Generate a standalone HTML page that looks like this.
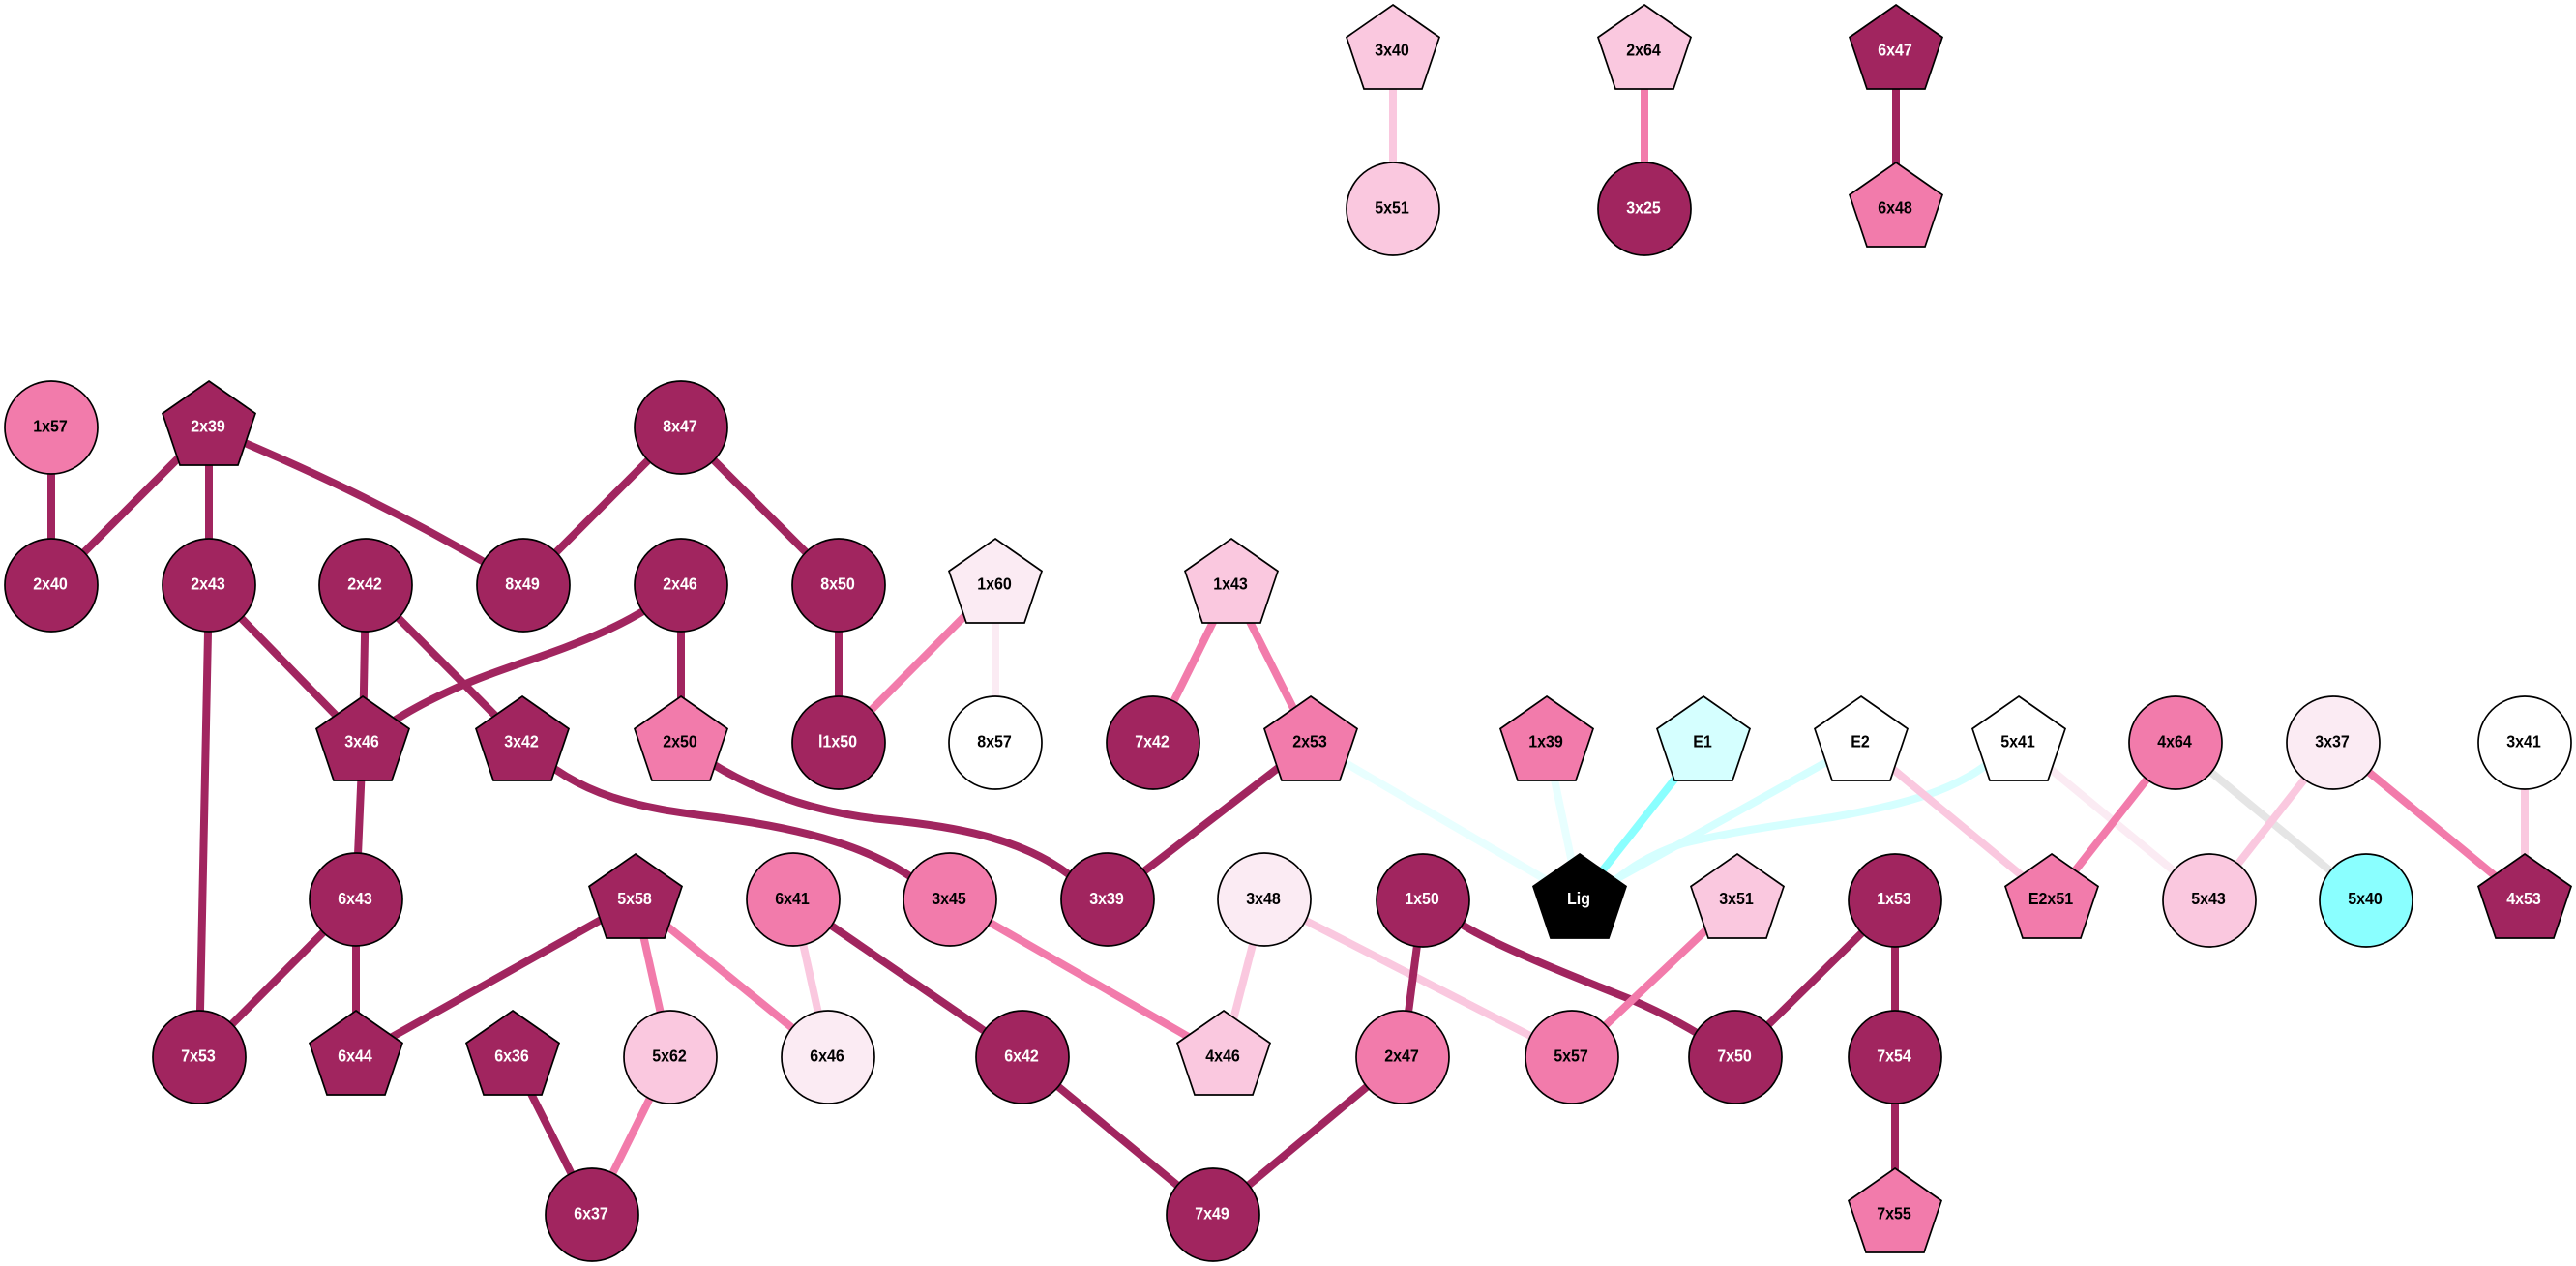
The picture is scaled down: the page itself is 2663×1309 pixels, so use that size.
<!DOCTYPE html>
<html>
<head>
<meta charset="utf-8">
<style>
html,body{margin:0;padding:0;background:#fff}
svg{display:block}
text{font-family:"Liberation Sans",sans-serif;font-weight:bold;font-size:18px;text-anchor:middle;fill:#000;transform-box:fill-box;transform-origin:center;transform:scale(.89,1)}
text.w{fill:#fff}
.e path,.e line{fill:none;stroke-width:8}
.d{stroke:#A1255F}.p{stroke:#F27BAB}.l{stroke:#FAC8DF}.v{stroke:#FBEBF3}
.c{stroke:#8AFFFF}.m{stroke:#D5FFFF}.n{stroke:#E8FFFF}.g{stroke:#E5E5E5}
.n1 ellipse,.n1 polygon{stroke:#000;stroke-width:1.7}
.D{fill:#A1255F}.P{fill:#F27BAB}.L{fill:#FAC8DF}.V{fill:#FBEBF3}.W{fill:#fff}.C{fill:#8AFFFF}.M{fill:#D5FFFF}.K{fill:#000}
</style>
</head>
<body>
<svg width="2663" height="1309" viewBox="0 0 2663 1309" xmlns="http://www.w3.org/2000/svg">
<rect width="2663" height="1309" fill="#fff"/>
<g class="e">
<line class="l" x1="1440" y1="53" x2="1440" y2="216"/>
<line class="p" x1="1700" y1="53" x2="1700" y2="216"/>
<line class="d" x1="1960" y1="53" x2="1960" y2="216"/>
<line class="d" x1="53" y1="442" x2="53" y2="605"/>
<line class="d" x1="216" y1="442" x2="53" y2="605"/>
<line class="d" x1="216" y1="442" x2="216" y2="605"/>
<path class="d" d="M216 442 C300 478,400 520,541 605"/>
<line class="d" x1="704" y1="442" x2="541" y2="605"/>
<line class="d" x1="704" y1="442" x2="867" y2="605"/>
<line class="d" x1="216" y1="605" x2="375" y2="768"/>
<line class="d" x1="216" y1="605" x2="206" y2="1093"/>
<line class="d" x1="378" y1="605" x2="375" y2="768"/>
<line class="d" x1="378" y1="605" x2="540" y2="768"/>
<path class="d" d="M704 605 C630 665,540 680,470 712 C430 730,405 745,375 768"/>
<line class="d" x1="704" y1="605" x2="704" y2="768"/>
<line class="d" x1="867" y1="605" x2="867" y2="768"/>
<line class="p" x1="1029" y1="605" x2="867" y2="768"/>
<line class="v" x1="1029" y1="605" x2="1029" y2="768"/>
<line class="p" x1="1273" y1="605" x2="1192" y2="768"/>
<line class="p" x1="1273" y1="605" x2="1355" y2="768"/>
<line class="d" x1="1355" y1="768" x2="1145" y2="930"/>
<line class="n" x1="1355" y1="768" x2="1633" y2="930"/>
<path class="d" d="M704 768 C760 810,830 840,920 848 C1000 856,1060 870,1106 905 Q1130 925,1145 950"/>
<path class="d" d="M540 768 C600 825,660 835,740 845 C840 858,920 880,970 930 L982 950"/>
<line class="d" x1="375" y1="768" x2="368" y2="930"/>
<line class="d" x1="368" y1="930" x2="206" y2="1093"/>
<line class="d" x1="368" y1="930" x2="368" y2="1093"/>
<line class="d" x1="657" y1="931" x2="368" y2="1093"/>
<line class="p" x1="657" y1="931" x2="693" y2="1093"/>
<line class="p" x1="657" y1="931" x2="856" y2="1093"/>
<line class="l" x1="820" y1="930" x2="856" y2="1093"/>
<line class="d" x1="820" y1="930" x2="1057" y2="1093"/>
<line class="p" x1="982" y1="930" x2="1265" y2="1093"/>
<line class="l" x1="1307" y1="930" x2="1265" y2="1093"/>
<line class="l" x1="1307" y1="930" x2="1625" y2="1093"/>
<line class="d" x1="530" y1="1093" x2="612" y2="1256"/>
<line class="p" x1="693" y1="1093" x2="612" y2="1256"/>
<line class="d" x1="1057" y1="1093" x2="1254" y2="1256"/>
<line class="d" x1="1450" y1="1093" x2="1254" y2="1256"/>
<line class="d" x1="1471" y1="931" x2="1450" y2="1093"/>
<path class="d" d="M1471 931 L1513 957 C1550 980,1640 1015,1685 1033 C1720 1048,1750 1064,1794 1093"/>
<line class="p" x1="1796" y1="931" x2="1625" y2="1093"/>
<line class="d" x1="1959" y1="931" x2="1794" y2="1093"/>
<line class="d" x1="1959" y1="931" x2="1959" y2="1093"/>
<line class="d" x1="1959" y1="1093" x2="1959" y2="1256"/>
<line class="n" x1="1599" y1="768" x2="1633" y2="930"/>
<line class="c" x1="1761" y1="768" x2="1633" y2="930"/>
<line class="m" x1="1924" y1="768" x2="1633" y2="930"/>
<path class="m" d="M2087 768 L2052 792 C2020 815,1980 830,1894 845 C1840 853,1790 860,1740 872 C1700 885,1670 905,1633 945"/>
<line class="l" x1="1924" y1="768" x2="2121" y2="931"/>
<line class="v" x1="2087" y1="768" x2="2284" y2="931"/>
<line class="p" x1="2249" y1="768" x2="2121" y2="931"/>
<line class="g" x1="2249" y1="768" x2="2446" y2="931"/>
<line class="l" x1="2412" y1="768" x2="2284" y2="931"/>
<line class="p" x1="2412" y1="768" x2="2610" y2="931"/>
<line class="l" x1="2610" y1="768" x2="2610" y2="931"/>
</g>
<g class="n1">
<polygon class="L" transform="translate(1440 53)" points="0,-48 48,-14.5 30,39 -30,39 -48,-14.5"/>
<polygon class="L" transform="translate(1700 53)" points="0,-48 48,-14.5 30,39 -30,39 -48,-14.5"/>
<polygon class="D" transform="translate(1960 53)" points="0,-48 48,-14.5 30,39 -30,39 -48,-14.5"/>
<ellipse class="L" cx="1440" cy="216" rx="48" ry="48"/>
<ellipse class="D" cx="1700" cy="216" rx="48" ry="48"/>
<polygon class="P" transform="translate(1960 216)" points="0,-48 48,-14.5 30,39 -30,39 -48,-14.5"/>
<ellipse class="P" cx="53" cy="442" rx="48" ry="48"/>
<polygon class="D" transform="translate(216 442)" points="0,-48 48,-14.5 30,39 -30,39 -48,-14.5"/>
<ellipse class="D" cx="704" cy="442" rx="48" ry="48"/>
<ellipse class="D" cx="53" cy="605" rx="48" ry="48"/>
<ellipse class="D" cx="216" cy="605" rx="48" ry="48"/>
<ellipse class="D" cx="378" cy="605" rx="48" ry="48"/>
<ellipse class="D" cx="541" cy="605" rx="48" ry="48"/>
<ellipse class="D" cx="704" cy="605" rx="48" ry="48"/>
<ellipse class="D" cx="867" cy="605" rx="48" ry="48"/>
<polygon class="V" transform="translate(1029 605)" points="0,-48 48,-14.5 30,39 -30,39 -48,-14.5"/>
<polygon class="L" transform="translate(1273 605)" points="0,-48 48,-14.5 30,39 -30,39 -48,-14.5"/>
<polygon class="D" transform="translate(375 768)" points="0,-48 48,-14.5 30,39 -30,39 -48,-14.5"/>
<polygon class="D" transform="translate(540 768)" points="0,-48 48,-14.5 30,39 -30,39 -48,-14.5"/>
<polygon class="P" transform="translate(704 768)" points="0,-48 48,-14.5 30,39 -30,39 -48,-14.5"/>
<ellipse class="D" cx="867" cy="768" rx="48" ry="48"/>
<ellipse class="W" cx="1029" cy="768" rx="48" ry="48"/>
<ellipse class="D" cx="1192" cy="768" rx="48" ry="48"/>
<polygon class="P" transform="translate(1355 768)" points="0,-48 48,-14.5 30,39 -30,39 -48,-14.5"/>
<polygon class="P" transform="translate(1599 768)" points="0,-48 48,-14.5 30,39 -30,39 -48,-14.5"/>
<polygon class="M" transform="translate(1761 768)" points="0,-48 48,-14.5 30,39 -30,39 -48,-14.5"/>
<polygon class="W" transform="translate(1924 768)" points="0,-48 48,-14.5 30,39 -30,39 -48,-14.5"/>
<polygon class="W" transform="translate(2087 768)" points="0,-48 48,-14.5 30,39 -30,39 -48,-14.5"/>
<ellipse class="P" cx="2249" cy="768" rx="48" ry="48"/>
<ellipse class="V" cx="2412" cy="768" rx="48" ry="48"/>
<ellipse class="W" cx="2610" cy="768" rx="48" ry="48"/>
<ellipse class="D" cx="368" cy="930" rx="48" ry="48"/>
<polygon class="D" transform="translate(657 931)" points="0,-48 48,-14.5 30,39 -30,39 -48,-14.5"/>
<ellipse class="P" cx="820" cy="930" rx="48" ry="48"/>
<ellipse class="P" cx="982" cy="930" rx="48" ry="48"/>
<ellipse class="D" cx="1145" cy="930" rx="48" ry="48"/>
<ellipse class="V" cx="1307" cy="930" rx="48" ry="48"/>
<ellipse class="D" cx="1471" cy="931" rx="48" ry="48"/>
<polygon class="K" transform="translate(1633 931)" points="0,-48 48,-14.5 30,39 -30,39 -48,-14.5"/>
<polygon class="L" transform="translate(1796 931)" points="0,-48 48,-14.5 30,39 -30,39 -48,-14.5"/>
<ellipse class="D" cx="1959" cy="931" rx="48" ry="48"/>
<polygon class="P" transform="translate(2121 931)" points="0,-48 48,-14.5 30,39 -30,39 -48,-14.5"/>
<ellipse class="L" cx="2284" cy="931" rx="48" ry="48"/>
<ellipse class="C" cx="2446" cy="931" rx="48" ry="48"/>
<polygon class="D" transform="translate(2610 931)" points="0,-48 48,-14.5 30,39 -30,39 -48,-14.5"/>
<ellipse class="D" cx="206" cy="1093" rx="48" ry="48"/>
<polygon class="D" transform="translate(368 1093)" points="0,-48 48,-14.5 30,39 -30,39 -48,-14.5"/>
<polygon class="D" transform="translate(530 1093)" points="0,-48 48,-14.5 30,39 -30,39 -48,-14.5"/>
<ellipse class="L" cx="693" cy="1093" rx="48" ry="48"/>
<ellipse class="V" cx="856" cy="1093" rx="48" ry="48"/>
<ellipse class="D" cx="1057" cy="1093" rx="48" ry="48"/>
<polygon class="L" transform="translate(1265 1093)" points="0,-48 48,-14.5 30,39 -30,39 -48,-14.5"/>
<ellipse class="P" cx="1450" cy="1093" rx="48" ry="48"/>
<ellipse class="P" cx="1625" cy="1093" rx="48" ry="48"/>
<ellipse class="D" cx="1794" cy="1093" rx="48" ry="48"/>
<ellipse class="D" cx="1959" cy="1093" rx="48" ry="48"/>
<ellipse class="D" cx="612" cy="1256" rx="48" ry="48"/>
<ellipse class="D" cx="1254" cy="1256" rx="48" ry="48"/>
<polygon class="P" transform="translate(1959 1256)" points="0,-48 48,-14.5 30,39 -30,39 -48,-14.5"/>
</g>
<g>
<text x="1439" y="57.7">3x40</text>
<text x="1699" y="57.7">2x64</text>
<text class="w" x="1959" y="57.7">6x47</text>
<text x="1439" y="220.7">5x51</text>
<text class="w" x="1699" y="220.7">3x25</text>
<text x="1959" y="220.7">6x48</text>
<text x="52" y="446.7">1x57</text>
<text class="w" x="215" y="446.7">2x39</text>
<text class="w" x="703" y="446.7">8x47</text>
<text class="w" x="52" y="609.7">2x40</text>
<text class="w" x="215" y="609.7">2x43</text>
<text class="w" x="377" y="609.7">2x42</text>
<text class="w" x="540" y="609.7">8x49</text>
<text class="w" x="703" y="609.7">2x46</text>
<text class="w" x="866" y="609.7">8x50</text>
<text x="1028" y="609.7">1x60</text>
<text x="1272" y="609.7">1x43</text>
<text class="w" x="374" y="772.7">3x46</text>
<text class="w" x="539" y="772.7">3x42</text>
<text x="703" y="772.7">2x50</text>
<text class="w" x="866" y="772.7">l1x50</text>
<text x="1028" y="772.7">8x57</text>
<text class="w" x="1191" y="772.7">7x42</text>
<text x="1354" y="772.7">2x53</text>
<text x="1598" y="772.7">1x39</text>
<text x="1760" y="772.7">E1</text>
<text x="1923" y="772.7">E2</text>
<text x="2086" y="772.7">5x41</text>
<text x="2248" y="772.7">4x64</text>
<text x="2411" y="772.7">3x37</text>
<text x="2609" y="772.7">3x41</text>
<text class="w" x="367" y="935">6x43</text>
<text class="w" x="656" y="935">5x58</text>
<text x="819" y="935">6x41</text>
<text x="981" y="935">3x45</text>
<text class="w" x="1144" y="935">3x39</text>
<text x="1306" y="935">3x48</text>
<text class="w" x="1470" y="935">1x50</text>
<text class="w" x="1632" y="935">Lig</text>
<text x="1795" y="935">3x51</text>
<text class="w" x="1958" y="935">1x53</text>
<text x="2120" y="935">E2x51</text>
<text x="2283" y="935">5x43</text>
<text x="2445" y="935">5x40</text>
<text class="w" x="2609" y="935">4x53</text>
<text class="w" x="205" y="1097.7">7x53</text>
<text class="w" x="367" y="1097.7">6x44</text>
<text class="w" x="529" y="1097.7">6x36</text>
<text x="692" y="1097.7">5x62</text>
<text x="855" y="1097.7">6x46</text>
<text class="w" x="1056" y="1097.7">6x42</text>
<text x="1264" y="1097.7">4x46</text>
<text x="1449" y="1097.7">2x47</text>
<text x="1624" y="1097.7">5x57</text>
<text class="w" x="1793" y="1097.7">7x50</text>
<text class="w" x="1958" y="1097.7">7x54</text>
<text class="w" x="611" y="1260.7">6x37</text>
<text class="w" x="1253" y="1260.7">7x49</text>
<text x="1958" y="1260.7">7x55</text>
</g>
</svg>
</body>
</html>
